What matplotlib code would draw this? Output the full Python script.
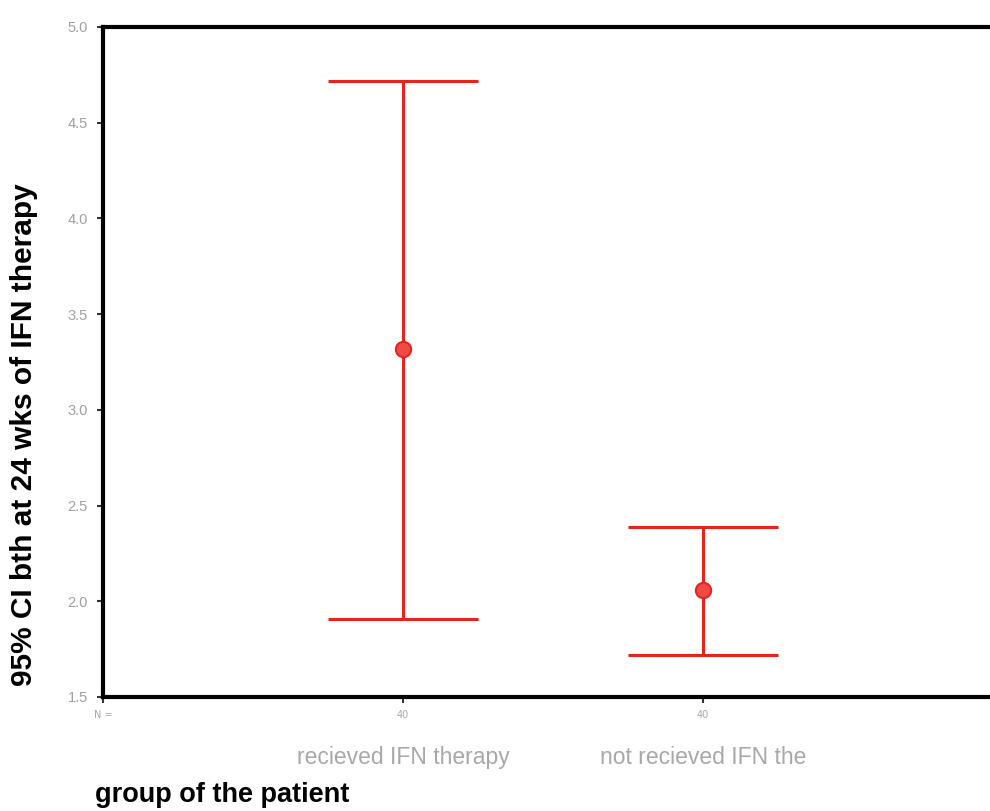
import matplotlib
matplotlib.use("Agg")
import matplotlib.pyplot as plt

categories = ["recieved IFN therapy", "not recieved IFN the"]
counts = ["40", "40"]
means = [3.32, 2.06]
lower = [1.91, 1.72]
upper = [4.72, 2.39]
yticks = [1.5, 2.0, 2.5, 3.0, 3.5, 4.0, 4.5, 5.0]

fig = plt.figure(figsize=(9.9, 8.11), dpi=100)
W, H = 990, 811
ax = fig.add_axes([103 / W, 1 - 697 / H, 900 / W, (697 - 27) / H])

red = "#e8231e"
xs = [1, 2]
for x, m, lo, hi in zip(xs, means, lower, upper):
    ax.plot([x, x], [lo, hi], color=red, lw=2.2, solid_capstyle="butt")
    for v in (lo, hi):
        ax.plot([x - 0.25, x + 0.25], [v, v], color=red, lw=2.2, solid_capstyle="butt")
    ax.plot([x], [m], marker="o", ms=11, mfc="#f04a45", mec=red, mew=1.5)

ax.set_xlim(0, 3)
ax.set_ylim(1.5, 5.0)
ax.set_yticks(yticks)
ax.set_yticklabels([f"{t:.1f}" for t in yticks], color="#a0a0a0", fontsize=10.5,
                   family="Liberation Sans")
ax.tick_params(axis="y", length=4, width=1.5, color="#333333", pad=7)
ax.set_xticks([0] + xs)
ax.set_xticklabels(["N ="] + counts, color="#a8a8a8", fontsize=7)
ax.tick_params(axis="x", length=4, width=1.5, color="#333333", pad=5)
for s in ax.spines.values():
    s.set_linewidth(3)
    s.set_color("black")

for x, c in zip(xs, categories):
    ax.text(x, -0.09, c, transform=ax.get_xaxis_transform(), ha="center", va="center",
            color="#a8a8a8", fontsize=16.5, family="Liberation Sans")

fig.text(24 / W, 1 - 435 / H, "95% CI bth at 24 wks of IFN therapy", fontsize=21.5,
         fontweight="bold", family="Liberation Sans", rotation=90,
         ha="center", va="center")
fig.text(95 / W, 1 - 795 / H, "group of the patient", fontsize=19.5, fontweight="bold",
         family="Liberation Sans", ha="left", va="center")

fig.savefig("out.png", dpi=100)
